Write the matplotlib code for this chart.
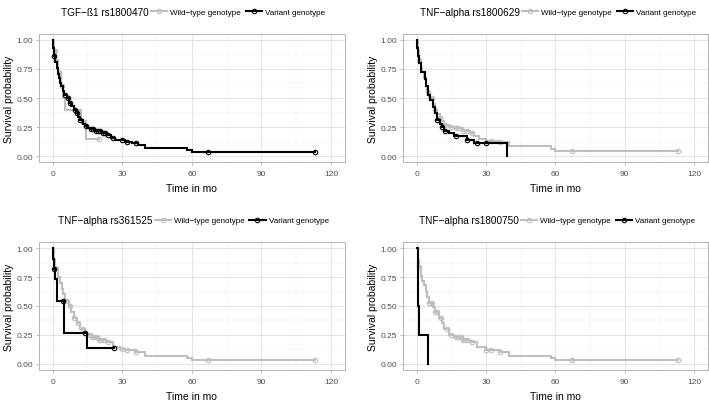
import matplotlib
matplotlib.use("Agg")
import matplotlib.pyplot as plt
from matplotlib.lines import Line2D
from matplotlib.ticker import MultipleLocator
import numpy as np

plt.rcParams['font.family'] = ['Liberation Sans', 'DejaVu Sans']

WT_COLOR = '#BEBEBE'
VAR_COLOR = '#000000'

x_breaks = [0, 30, 60, 90, 120]
y_breaks = [0.0, 0.25, 0.5, 0.75, 1.0]
y_labels = ['0.00', '0.25', '0.50', '0.75', '1.00']

panel_titles = ['TGF−ß1 rs1800470', 'TNF−alpha rs1800629',
                'TNF−alpha rs361525', 'TNF−alpha rs1800750']
group_labels = ['Wild−type genotype', 'Variant genotype']

# TGF-b1 rs1800470
tgf_wt_time = [0, 0.5, 1.5, 2.5, 3.5, 4.5, 5.3, 12.2, 14.5]
tgf_wt_surv = [1.0, 0.9, 0.83, 0.72, 0.6, 0.5, 0.4, 0.3, 0.15]
tgf_wt_cens = [1, 4, 12.5, 20]
tgf_var_time = [0, 0.3, 0.8, 1.2, 1.8, 2.3, 2.8, 3.3, 3.8, 4.3, 5, 6, 7, 8, 9, 10,
                11, 12, 13, 14, 15, 16, 18, 21, 23, 25, 27, 31, 34, 37, 40, 58, 60]
tgf_var_surv = [1.0, 0.93, 0.86, 0.81, 0.76, 0.71, 0.67, 0.63, 0.6, 0.56, 0.53,
                0.5, 0.46, 0.43, 0.4, 0.37, 0.34, 0.31, 0.28, 0.26, 0.24, 0.23,
                0.22, 0.2, 0.18, 0.16, 0.14, 0.12, 0.11, 0.1, 0.07, 0.05, 0.035]
tgf_var_cens = [0.8, 5.5, 6.5, 7.5, 9.5, 10.5, 12, 14.5, 16.5, 17.5, 18.5, 19.5,
                20.5, 21.5, 22.5, 24, 26, 30, 32, 36, 67, 113]

# TNF-alpha rs1800629
tnf629_wt_time = [0, 0.5, 1, 2, 2.5, 3, 4, 4.5, 5.5, 7, 8, 9, 10, 11, 12, 14, 16,
                  20, 23, 25, 27, 30, 35, 40, 58, 60]
tnf629_wt_surv = [1.0, 0.9, 0.83, 0.76, 0.72, 0.67, 0.6, 0.55, 0.5, 0.45, 0.4,
                  0.36, 0.33, 0.3, 0.27, 0.25, 0.24, 0.22, 0.2, 0.17, 0.15, 0.13,
                  0.12, 0.09, 0.06, 0.045]
tnf629_wt_cens = [1, 5, 6.5, 8, 10, 12.5, 15, 17, 18, 20, 22, 24, 32, 36, 67, 113]
tnf629_var_time = [0, 0.3, 0.8, 1.2, 2, 3.5, 4, 5, 6, 7, 8, 9, 10, 11, 12, 14,
                   16, 22, 25, 39]
tnf629_var_surv = [1.0, 0.93, 0.86, 0.8, 0.72, 0.66, 0.6, 0.53, 0.48, 0.42,
                   0.37, 0.31, 0.28, 0.25, 0.22, 0.2, 0.17, 0.14, 0.11, 0.0]
tnf629_var_cens = [9, 11, 12.5, 17, 22, 26, 30]

# TNF-alpha rs361525
tnf525_wt_time = [0, 0.5, 1, 2.5, 3, 4, 4.5, 5.5, 7, 8, 9, 10.5, 12, 14, 15, 17,
                  20, 23, 26, 29, 31, 36, 40, 58, 60]
tnf525_wt_surv = [1.0, 0.9, 0.83, 0.75, 0.7, 0.65, 0.6, 0.54, 0.5, 0.45, 0.4,
                  0.35, 0.3, 0.27, 0.25, 0.23, 0.21, 0.19, 0.15, 0.13, 0.12, 0.1,
                  0.07, 0.05, 0.035]
tnf525_wt_cens = [1, 6, 7.5, 9, 11, 13, 14, 16, 17, 18, 19, 20, 21, 22, 24, 30,
                  32, 36, 67, 113]
tnf525_var_time = [0, 0.3, 0.6, 1, 2, 5, 14.8]
tnf525_var_surv = [1.0, 0.91, 0.82, 0.73, 0.545, 0.27, 0.136]
tnf525_var_cens = [0.6, 4.6, 14, 26.3]

# TNF-alpha rs1800750
tnf750_wt_time = [0, 0.5, 1, 2, 2.5, 3, 4, 4.5, 5.5, 7, 8, 9.5, 11, 12, 14, 16,
                  20, 23, 26, 30, 36, 40, 58, 60]
tnf750_wt_surv = [1.0, 0.9, 0.84, 0.76, 0.72, 0.68, 0.63, 0.58, 0.53, 0.49,
                  0.45, 0.4, 0.35, 0.3, 0.25, 0.23, 0.21, 0.19, 0.15, 0.12, 0.1,
                  0.07, 0.05, 0.035]
tnf750_wt_cens = [1, 5.5, 6.5, 8, 9, 10.5, 13, 15, 17, 18, 19, 20, 21, 22, 24,
                  30, 32, 36, 67, 113]
tnf750_var_time = [0, 0.5, 1, 5]
tnf750_var_surv = [1.0, 0.5, 0.25, 0.0]
tnf750_var_cens = []

panels = [
    (tgf_wt_time, tgf_wt_surv, tgf_wt_cens, tgf_var_time, tgf_var_surv, tgf_var_cens),
    (tnf629_wt_time, tnf629_wt_surv, tnf629_wt_cens,
     tnf629_var_time, tnf629_var_surv, tnf629_var_cens),
    (tnf525_wt_time, tnf525_wt_surv, tnf525_wt_cens,
     tnf525_var_time, tnf525_var_surv, tnf525_var_cens),
    (tnf750_wt_time, tnf750_wt_surv, tnf750_wt_cens,
     tnf750_var_time, tnf750_var_surv, tnf750_var_cens),
]


def draw_km(ax, times, surv, cens, color, zorder):
    """Step curve with open-circle censor marks."""
    t = list(times)
    s = list(surv)
    if cens and max(cens) > t[-1]:
        t.append(max(cens))
        s.append(s[-1])
    ax.step(t, s, where='post', color=color, lw=1.5, zorder=zorder,
            solid_joinstyle='miter')
    if cens:
        idx = np.searchsorted(times, cens, side='right') - 1
        cy = np.asarray(surv)[idx]
        ax.plot(cens, cy, linestyle='none', marker='o', ms=3.2, mfc='none',
                mec=color, mew=0.8, zorder=zorder + 0.5)


W, H = 709, 402
fig = plt.figure(figsize=(W / 100, H / 100), dpi=100)

# axes boxes in pixels: left, top, right, bottom
boxes = [(38.7, 35, 345, 163), (402.7, 35, 708, 163),
         (38.7, 243.3, 345, 370.7), (402.7, 243.3, 708, 370.7)]
legend_pos = [(61, 13), (420, 13), (58, 221.5), (419, 221.5)]

for i, (box, data) in enumerate(zip(boxes, panels)):
    l, t, r, b = box
    ax = fig.add_axes([l / W, 1 - b / H, (r - l) / W, (b - t) / H])
    wt_t, wt_s, wt_c, var_t, var_s, var_c = data
    draw_km(ax, wt_t, wt_s, wt_c, WT_COLOR, 3)
    draw_km(ax, var_t, var_s, var_c, VAR_COLOR, 4)

    ax.set_xlim(-6, 126)
    ax.set_ylim(-0.05, 1.05)
    ax.set_xticks(x_breaks)
    ax.set_yticks(y_breaks)
    ax.set_yticklabels(y_labels)
    ax.xaxis.set_minor_locator(MultipleLocator(15))
    ax.yaxis.set_minor_locator(MultipleLocator(0.125))
    ax.grid(True, which='major', color='#DEDEDE', lw=0.6, zorder=0)
    ax.grid(True, which='minor', color='#EDEDED', lw=0.35, zorder=0)
    ax.set_axisbelow(True)
    ax.tick_params(which='major', length=2.5, width=0.6, color='#B3B3B3',
                   labelsize=6, labelcolor='#4D4D4D', pad=1.5)
    ax.tick_params(axis='x', which='major', pad=3.5)
    ax.tick_params(which='minor', length=0)
    for sp in ax.spines.values():
        sp.set_color('#B3B3B3')
        sp.set_linewidth(0.7)
    ax.set_xlabel('Time in mo', fontsize=7.5, labelpad=4)
    ax.set_ylabel('Survival probability', fontsize=7.5, labelpad=2)

# legends above each panel: title text then the two keys
titles = []
for i, (x, y) in enumerate(legend_pos):
    titles.append(fig.text(x / W, 1 - y / H, panel_titles[i], fontsize=7.2,
                           ha='left', va='center'))
fig.canvas.draw()
renderer = fig.canvas.get_renderer()
handles = [Line2D([], [], color=WT_COLOR, lw=1.5, marker='o', ms=3.2,
                  mfc='none', mec=WT_COLOR, mew=0.8),
           Line2D([], [], color=VAR_COLOR, lw=1.5, marker='o', ms=3.2,
                  mfc='none', mec=VAR_COLOR, mew=0.8)]
for txt, (x, y) in zip(titles, legend_pos):
    bb = txt.get_window_extent(renderer)
    fig.legend(handles, group_labels, loc='center left',
               bbox_to_anchor=((bb.x1 + 2) / W, 1 - y / H), ncol=2,
               frameon=False, fontsize=5.8, handlelength=2.0,
               handletextpad=0.4, columnspacing=0.6, borderpad=0,
               borderaxespad=0)

fig.savefig('out.png', dpi=100)
